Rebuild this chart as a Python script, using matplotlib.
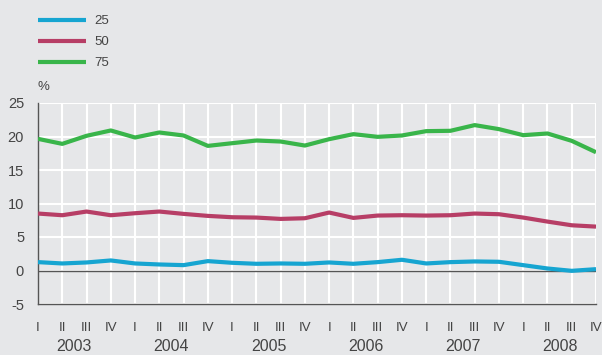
import matplotlib.pyplot as plt
from matplotlib.lines import Line2D

years = ["2003", "2004", "2005", "2006", "2007", "2008"]
quarters = ["I", "II", "III", "IV"]

p25 = [1.25, 1.05, 1.2, 1.5, 1.05, 0.9, 0.8, 1.4, 1.15, 1.0, 1.05, 1.0,
       1.2, 1.0, 1.25, 1.6, 1.05, 1.25, 1.35, 1.3, 0.8, 0.3, -0.05, 0.2]
p50 = [8.5, 8.25, 8.8, 8.25, 8.55, 8.8, 8.45, 8.15, 7.95, 7.9, 7.7, 7.8,
       8.65, 7.85, 8.2, 8.25, 8.2, 8.25, 8.5, 8.4, 7.9, 7.3, 6.75, 6.55]
p75 = [19.65, 18.9, 20.1, 20.9, 19.85, 20.6, 20.15, 18.6, 19.0, 19.4, 19.25, 18.65,
       19.6, 20.35, 19.95, 20.15, 20.8, 20.85, 21.7, 21.1, 20.2, 20.45, 19.35, 17.65]

series = [("25", p25, "#16a5d1"), ("50", p50, "#b73e66"), ("75", p75, "#39b54a")]

bg = "#e6e7e9"
txt = "#444444"
plt.rcParams["font.family"] = ["Liberation Sans", "DejaVu Sans"]
plt.rcParams["font.size"] = 9.5
plt.rcParams["axes.unicode_minus"] = False

fig = plt.figure(figsize=(6.02, 3.55), dpi=100, facecolor=bg)
ax = fig.add_axes([38 / 602, 1 - 304 / 355, 558 / 602, 201 / 355], facecolor=bg)

x = list(range(len(p25)))
handles = []
for name, vals, col in series:
    ax.plot(x, vals, color=col, lw=3, solid_capstyle="butt", zorder=3)
    handles.append(Line2D([], [], color=col, lw=3, solid_capstyle="butt"))

ax.set_xlim(0, len(x) - 1)
ax.set_ylim(-5, 25)
ax.set_yticks(range(-5, 26, 5))
ax.set_xticks(x)
ax.set_xticklabels([q for _ in years for q in quarters])
ax.grid(True, color="white", lw=1.5, zorder=1)
ax.axhline(0, color="#555555", lw=1, zorder=2)
for s in ["top", "right"]:
    ax.spines[s].set_visible(False)
for s in ["left", "bottom"]:
    ax.spines[s].set_color("#555555")
    ax.spines[s].set_linewidth(1)
ax.tick_params(length=0, colors=txt)
ax.tick_params(axis="y", pad=10, labelsize=10.5)
ax.tick_params(axis="x", pad=13, labelsize=9.5)

# year labels centred under each group of four quarters
for i, yr in enumerate(years):
    ax.text(i * 4 + 1.5, -0.212, yr, transform=ax.get_xaxis_transform(),
            ha="center", va="center", color=txt, fontsize=11.5)

fig.text(38 / 602, 1 - 87 / 355, "%", ha="left", va="center", color=txt, fontsize=9.5)

fig.legend(handles, [s[0] for s in series], loc="upper left",
           bbox_to_anchor=(38 / 602, 1 - 15 / 355), frameon=False,
           borderpad=0, borderaxespad=0, handlelength=3.6, handletextpad=0.7,
           labelspacing=0.66, labelcolor=txt)

fig.savefig("out.png", dpi=100, facecolor=bg)
